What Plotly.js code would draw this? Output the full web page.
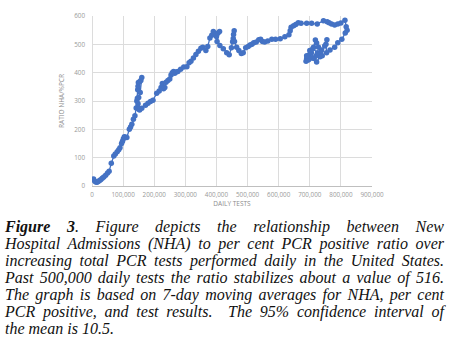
<!DOCTYPE html>
<html>
<head>
<meta charset="utf-8">
<script src="https://cdn.plot.ly/plotly-3.0.1.min.js"></script>
<style>
  html, body { margin: 0; padding: 0; background: #fff; width: 451px; height: 342px; overflow: hidden; }
  #chart { position: absolute; left: 0; top: 0; width: 451px; height: 212px; }
  #caption { position: absolute; left: 5px; top: 218px; width: 439px;
    font-family: "Liberation Serif", "Times New Roman", serif; font-style: italic;
    font-size: 16px; line-height: 17.05px; color: #111; }
  #caption .l { text-align: justify; text-align-last: justify; white-space: nowrap; }
  #caption .last { text-align: left; white-space: nowrap; }
</style>
</head>
<body>
<div id="chart"></div>
<div id="caption">
  <div class="l"><b>Figure 3</b>. Figure depicts the relationship between New</div>
  <div class="l">Hospital Admissions (NHA) to per cent PCR positive ratio over</div>
  <div class="l">increasing total PCR tests performed daily in the United States.</div>
  <div class="l">Past 500,000 daily tests the ratio stabilizes about a value of 516.</div>
  <div class="l">The graph is based on 7-day moving averages for NHA, per cent</div>
  <div class="l">PCR positive, and test results.&nbsp; The 95% confidence interval of</div>
  <div class="last">the mean is 10.5.</div>
</div>
<script>
const dailyTests = [5000,8000,12000,16000,20000,24000,28000,33000,38000,44000,50000,55000,62000,70000,75000,81000,86000,90000,95000,98000,101000,104000,108000,112000,120000,124000,128000,133000,138000,142000,144000,146000,147000,148000,149000,153000,157000,160000,155000,150000,148000,147000,150000,153000,160000,172000,180000,188000,196000,208000,216000,222000,226000,230000,234000,238000,244000,250000,254000,258000,262000,266000,270000,276000,285000,295000,305000,312000,318000,326000,334000,342000,350000,356000,366000,372000,379000,385000,390000,395000,400000,405000,410000,402000,411000,422000,433000,441000,448000,452000,454000,457000,455000,458000,465000,472000,480000,486000,494000,502000,508000,514000,520000,528000,536000,542000,548000,555000,565000,578000,590000,605000,620000,633000,637000,640000,648000,655000,663000,672000,690000,706000,724000,744000,756000,762000,770000,780000,790000,800000,813000,817000,820000,814000,803000,790000,780000,765000,754000,752000,755000,748000,738000,733000,722000,714000,705000,698000,690000,688000,695000,703000,712000,718000,722000,728000,735000,720000,708000,698000,690000,700000,710000,725000,740000];
const ratioNhaPcr = [25,18,14,13,16,19,22,27,32,38,46,52,80,106,113,121,128,135,150,158,167,174,172,171,200,208,218,236,248,275,300,310,340,352,365,368,372,383,330,312,290,278,272,268,274,285,292,298,303,327,335,348,362,343,348,366,372,378,392,400,404,398,402,404,412,420,421,435,440,452,464,476,486,490,478,492,522,532,545,536,528,540,545,510,496,484,470,463,488,509,521,548,535,510,490,478,468,470,488,492,498,500,506,508,516,518,510,508,512,518,518,520,527,534,548,560,566,570,576,574,574,574,572,583,580,576,572,568,572,575,585,562,550,540,518,506,490,480,470,500,516,494,480,456,438,450,470,462,450,440,445,470,490,515,505,490,472,460,452,448,460,478,485,470,460];
const xTickVals = [0,100000,200000,300000,400000,500000,600000,700000,800000,900000];
const yTickVals = [0,100,200,300,400,500,600];

const blue = '#4472C4';
const tickFont = {family: 'Open Sans, Arial, sans-serif', size: 6.3, color: '#999999'};
const titleFont = {family: 'Open Sans, Arial, sans-serif', size: 6.5, color: '#8c8c8c'};

Plotly.newPlot('chart', [{
  x: dailyTests, y: ratioNhaPcr, type: 'scatter', mode: 'lines+markers',
  line: {color: blue, width: 1.3}, marker: {color: blue, size: 5.5},
  hoverinfo: 'none'
}], {
  width: 451, height: 212,
  margin: {l: 92, r: 79, t: 16, b: 26},
  paper_bgcolor: '#fff', plot_bgcolor: '#fff', showlegend: false,
  xaxis: {
    range: [0, 900000], tickvals: xTickVals, tickformat: ',d',
    showgrid: true, gridcolor: '#dcdcdc', gridwidth: 1,
    zeroline: true, zerolinecolor: '#dcdcdc', zerolinewidth: 1,
    showline: false, ticks: '', tickfont: tickFont, ticklabelstandoff: 4,
    title: {text: 'DAILY TESTS', font: titleFont, standoff: 3},
    fixedrange: true
  },
  yaxis: {
    range: [0, 600], tickvals: yTickVals,
    showgrid: true, gridcolor: '#dcdcdc', gridwidth: 1,
    zeroline: true, zerolinecolor: '#bfbfbf', zerolinewidth: 1,
    showline: false, ticks: '', tickfont: tickFont, ticklabelstandoff: 6,
    title: {text: 'RATIO NHA/%PCR', font: titleFont, standoff: 8},
    fixedrange: true
  }
}, {displayModeBar: false, staticPlot: true});
</script>
</body>
</html>
